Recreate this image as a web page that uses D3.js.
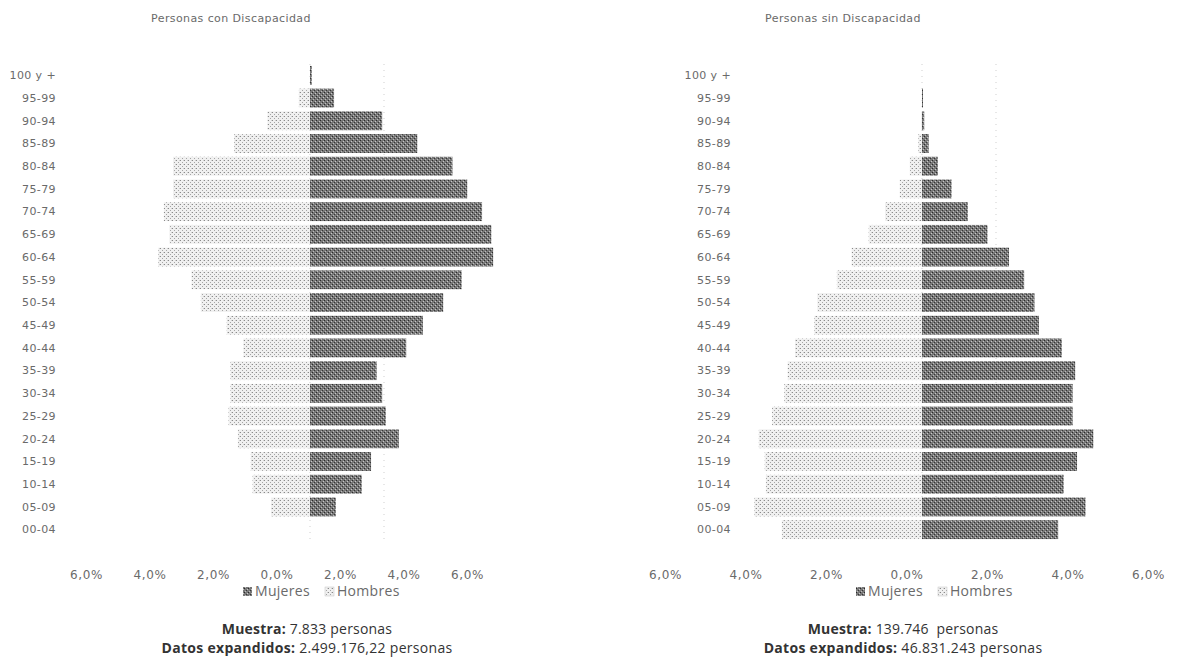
<!DOCTYPE html>
<html>
<head>
<meta charset="utf-8">
<script src="https://cdn.jsdelivr.net/npm/d3@7"></script>
<style>
  html, body { margin: 0; padding: 0; background: #fff; }
  svg { display: block; }
  text { white-space: pre; }
</style>
</head>
<body>
<svg id="chart" width="1182" height="658"></svg>
<script>
const categories = ["100 y +","95-99","90-94","85-89","80-84","75-79","70-74","65-69","60-64","55-59","50-54","45-49","40-44","35-39","30-34","25-29","20-24","15-19","10-14","05-09","00-04"];

const mujeresCon = [0.05,0.65,1.95,2.9,3.85,4.25,4.65,4.9,4.95,4.1,3.6,3.05,2.6,1.8,1.95,2.05,2.4,1.65,1.4,0.7,0];
const hombresCon = [0.0,0.3,1.15,2.05,3.7,3.7,3.95,3.8,4.1,3.2,2.95,2.25,1.8,2.15,2.15,2.2,1.95,1.6,1.55,1.05,0];

const mujeresSin = [0,0.02,0.06,0.18,0.43,0.8,1.24,1.77,2.35,2.76,3.04,3.16,3.78,4.14,4.07,4.07,4.63,4.19,3.83,4.42,3.68];
const hombresSin = [0,0,0.02,0.1,0.33,0.6,1.0,1.44,1.9,2.3,2.83,2.91,3.43,3.63,3.72,4.05,4.41,4.25,4.22,4.53,3.79];

const tickValues = [-6,-4,-2,0,2,4,6];
const tickLabels = ["6,0%","4,0%","2,0%","0,0%","2,0%","4,0%","6,0%"];

const titles = ["Personas con Discapacidad","Personas sin Discapacidad"];
const legendLabels = ["Mujeres","Hombres"];
const muestra = ["7.833 personas","139.746  personas"];
const expandidos = ["2.499.176,22 personas","46.831.243 personas"];

const svg = d3.select("#chart");
const defs = svg.append("defs");

// dithered-looking fills like the scanned original
const pDark = defs.append("pattern").attr("id","pDark").attr("patternUnits","userSpaceOnUse").attr("width",4).attr("height",4);
pDark.append("rect").attr("width",4).attr("height",4).attr("fill","#777");
pDark.append("rect").attr("x",0).attr("y",0).attr("width",1).attr("height",1).attr("fill","#2a2a2a");
pDark.append("rect").attr("x",2).attr("y",2).attr("width",1).attr("height",1).attr("fill","#363636");
pDark.append("rect").attr("x",3).attr("y",1).attr("width",1).attr("height",1).attr("fill","#c8c8c8");
pDark.append("rect").attr("x",1).attr("y",3).attr("width",1).attr("height",1).attr("fill","#bdbdbd");

const pLight = defs.append("pattern").attr("id","pLight").attr("patternUnits","userSpaceOnUse").attr("width",4).attr("height",4);
pLight.append("rect").attr("width",4).attr("height",4).attr("fill","#f0f0f0");
pLight.append("rect").attr("x",0).attr("y",0).attr("width",1).attr("height",1).attr("fill","#8a8a8a");
pLight.append("rect").attr("x",2).attr("y",2).attr("width",1).attr("height",1).attr("fill","#a5a5a5");
pLight.append("rect").attr("x",3).attr("y",0).attr("width",1).attr("height",1).attr("fill","#d0d0d0");

const panels = [
  {zero: 310, labelX: 56, axisRange: [86, 467], center: 231, noteX: 307, legendX: 243, mujeres: mujeresCon, hombres: hombresCon},
  {zero: 922, labelX: 731, axisRange: [665, 1148], center: 843, noteX: 903, legendX: 856, mujeres: mujeresSin, hombres: hombresSin}
];
const pxPerPct = 37;

const y = d3.scaleBand().domain(categories).range([64, 541]).paddingInner(0.17).paddingOuter(0.085);
const font = "DejaVu Sans, sans-serif";

panels.forEach((p, i) => {
  const g = svg.append("g");
  const x = d3.scaleLinear().domain([-6, 6]).range([p.zero - 6*pxPerPct, p.zero + 6*pxPerPct]);
  const xAxisScale = d3.scaleLinear().domain([-6, 6]).range(p.axisRange);

  // faint dotted grid
  g.append("g").selectAll("line").data([0, 2]).join("line")
    .attr("x1", d => x(d)).attr("x2", d => x(d))
    .attr("y1", y.range()[0]).attr("y2", y.range()[1])
    .attr("stroke", "#cfcfcf").attr("stroke-width", 1)
    .attr("stroke-dasharray", "1,5");

  // Hombres (left, light)
  g.append("g").selectAll("rect").data(categories).join("rect")
    .attr("x", (d, k) => x(-p.hombres[k]))
    .attr("y", d => y(d))
    .attr("width", (d, k) => x(0) - x(-p.hombres[k]))
    .attr("height", y.bandwidth())
    .attr("fill", "url(#pLight)");

  // Mujeres (right, dark)
  g.append("g").selectAll("rect").data(categories).join("rect")
    .attr("x", x(0))
    .attr("y", d => y(d))
    .attr("width", (d, k) => Math.max(x(p.mujeres[k]) - x(0), p.mujeres[k] > 0 ? 1 : 0))
    .attr("height", y.bandwidth())
    .attr("fill", "url(#pDark)");

  // category labels
  g.append("g").selectAll("text").data(categories).join("text")
    .attr("x", p.labelX)
    .attr("y", d => y(d) + y.bandwidth()/2)
    .attr("dy", "0.35em")
    .attr("text-anchor", "end")
    .attr("font-family", font)
    .attr("font-size", 11)
    .attr("letter-spacing", "0.4px")
    .attr("fill", "#6a6a6a")
    .text(d => d);

  // x axis
  const axis = d3.axisBottom(xAxisScale).tickValues(tickValues).tickSize(0).tickPadding(0)
    .tickFormat((d, k) => tickLabels[k]);
  const ax = g.append("g").attr("transform", `translate(0, 570)`).call(axis);
  ax.select(".domain").remove();
  ax.selectAll("text")
    .attr("font-family", font)
    .attr("font-size", 12)
    .attr("letter-spacing", "0.6px")
    .attr("fill", "#6a6a6a");

  // title
  g.append("text")
    .attr("x", p.center).attr("y", 22)
    .attr("text-anchor", "middle")
    .attr("font-family", font)
    .attr("font-size", 11)
    .attr("letter-spacing", "0.4px")
    .attr("fill", "#6a6a6a")
    .text(titles[i]);

  // legend
  const lg = g.append("g");
  const lx = p.legendX;
  lg.append("rect").attr("x", lx).attr("y", 587).attr("width", 9).attr("height", 9).attr("fill", "url(#pDark)");
  lg.append("text").attr("x", lx + 12).attr("y", 596)
    .attr("font-family", "Open Sans, sans-serif").attr("font-size", 14).attr("letter-spacing", "0.3px").attr("fill", "#6a6a6a")
    .text(legendLabels[0]);
  lg.append("rect").attr("x", lx + 82).attr("y", 587).attr("width", 9).attr("height", 9).attr("fill", "url(#pLight)").attr("stroke", "#c4c4c4").attr("stroke-width", 0.5);
  lg.append("text").attr("x", lx + 94).attr("y", 596)
    .attr("font-family", "Open Sans, sans-serif").attr("font-size", 14).attr("letter-spacing", "0.3px").attr("fill", "#6a6a6a")
    .text(legendLabels[1]);

  // sample notes
  const t1 = g.append("text").attr("x", p.noteX).attr("y", 634)
    .attr("text-anchor", "middle")
    .attr("font-family", "Open Sans, sans-serif").attr("font-size", 14).attr("letter-spacing", "0.2px").attr("fill", "#333");
  t1.append("tspan").attr("font-weight", "bold").text("Muestra: ");
  t1.append("tspan").text(muestra[i]);

  const t2 = g.append("text").attr("x", p.noteX).attr("y", 653)
    .attr("text-anchor", "middle")
    .attr("font-family", "Open Sans, sans-serif").attr("font-size", 14).attr("letter-spacing", "0.3px").attr("fill", "#333");
  t2.append("tspan").attr("font-weight", "bold").text("Datos expandidos: ");
  t2.append("tspan").text(expandidos[i]);
});
</script>
</body>
</html>
